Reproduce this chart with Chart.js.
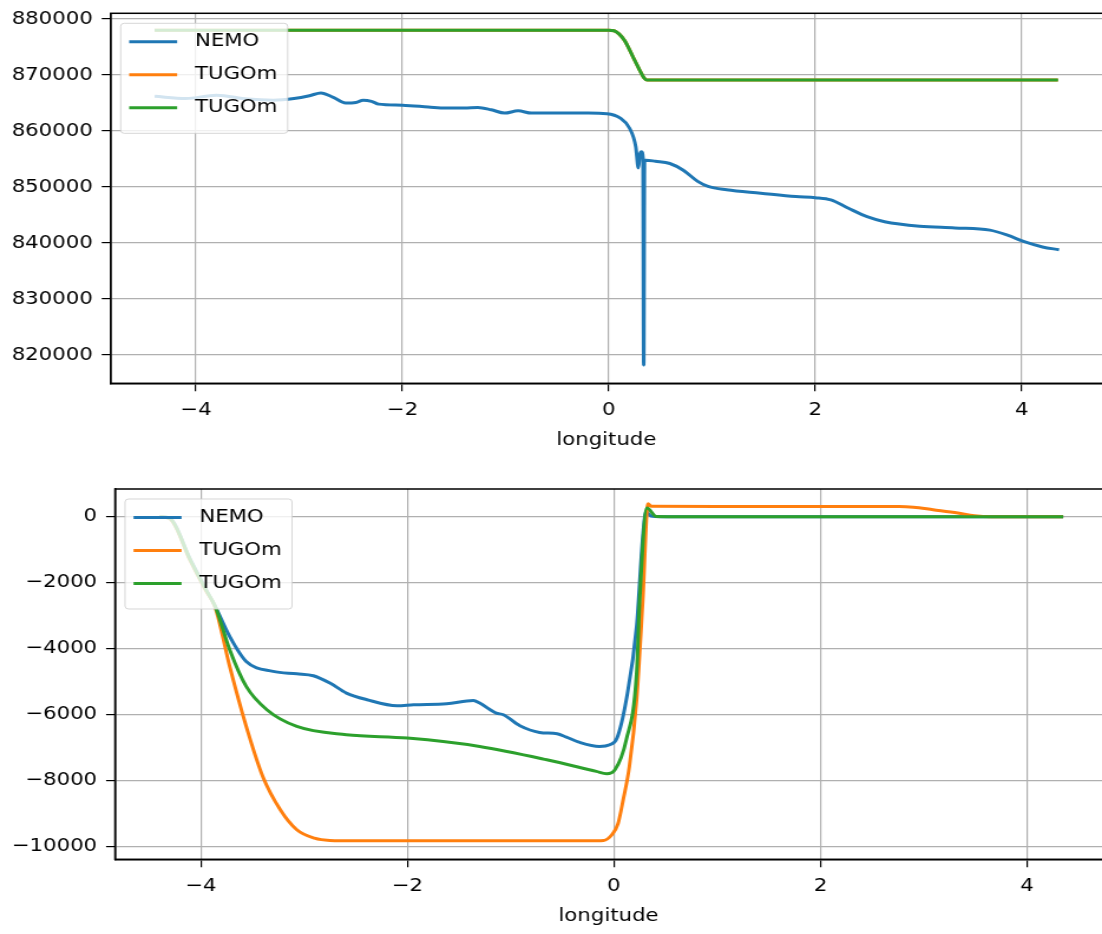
<!DOCTYPE html>
<html>
<head>
<meta charset="utf-8">
<script src="https://cdn.jsdelivr.net/npm/chart.js@4.4.1/dist/chart.umd.min.js"></script>
<style>
  html, body { margin: 0; padding: 0; background: #fff; overflow: hidden; }
  canvas { display: block; }
</style>
</head>
<body>
<canvas id="topChart" width="934" height="467" style="width:1102px;height:467px"></canvas>
<canvas id="bottomChart" width="934" height="467" style="width:1102px;height:467px"></canvas>
<script>
// the picture is stretched sideways, so draw narrow and widen with css
const STRETCH = 1102 / 934;

const seriesLabels = ['NEMO', 'TUGOm', 'TUGOm'];
const seriesColors = ['#1f77b4', '#ff7f0e', '#2ca02c'];

const xTickValues = [-4, -2, 0, 2, 4];
const topYTicks = [820000, 830000, 840000, 850000, 860000, 870000, 880000];
const bottomYTicks = [-10000, -8000, -6000, -4000, -2000, 0];

// top panel
const topNemoLon = [-4.4, -4.1, -3.8, -3.5, -3.25, -3.05, -2.9, -2.79, -2.67, -2.55, -2.45, -2.38, -2.3, -2.23,
  -2.0, -1.75, -1.58, -1.4, -1.27, -1.14, -1.01, -0.88, -0.75, -0.49, -0.2, -0.02, 0.11, 0.2, 0.26, 0.285,
  0.3, 0.315, 0.33, 0.337, 0.345, 0.36, 0.45, 0.59, 0.72, 0.86, 0.96, 1.14, 1.47, 1.81, 2.0, 2.15, 2.32,
  2.5, 2.67, 3.01, 3.35, 3.69, 3.86, 4.03, 4.2, 4.36];
const topNemoVal = [866200, 865800, 866400, 865700, 865500, 865800, 866300, 866800, 866000, 865000, 865100, 865500, 865300, 864800,
  864600, 864300, 864100, 864100, 864200, 863800, 863200, 863600, 863200, 863200, 863200, 863100, 862300, 860500, 857200, 853400,
  855800, 856300, 855200, 818200, 854800, 854800, 854600, 854200, 853000, 851000, 850100, 849500, 848900, 848300, 848100, 847700, 846200,
  844700, 843800, 843000, 842700, 842300, 841400, 840200, 839300, 838800];

const topTugoLon = [-4.4, -1.0, 0.0, 0.05, 0.1, 0.15, 0.2, 0.25, 0.3, 0.34, 0.37, 1.0, 4.35];
const topOrangeVal = [878000, 878000, 878000, 877900, 877300, 876200, 874500, 872600, 870800, 869500, 869100, 869100, 869100];
const topGreenVal = [878000, 878000, 878000, 877900, 877300, 876200, 874500, 872600, 870800, 869500, 869100, 869100, 869100];

// bottom panel
const bottomNemoLon = [-4.4, -4.3, -4.1, -3.95, -3.86, -3.72, -3.56, -3.3, -3.07, -2.91, -2.75, -2.59, -2.39, -2.1,
  -1.94, -1.62, -1.36, -1.3, -1.14, -1.07, -0.91, -0.72, -0.55, -0.46, -0.33, -0.14, -0.04, 0.03, 0.12, 0.22,
  0.28, 0.31, 0.36, 0.45, 2.0, 4.35];
const bottomNemoVal = [0, -50, -1300, -2200, -2717, -3627, -4384, -4687, -4758, -4818, -5040, -5343, -5545, -5727,
  -5697, -5667, -5566, -5646, -5949, -6000, -6333, -6535, -6576, -6677, -6839, -6960, -6909, -6707, -5545, -3324,
  -600, 150, 20, 0, 0, 0];

const bottomOrangeLon = [-4.4, -4.3, -4.1, -3.95, -3.86, -3.72, -3.56, -3.4, -3.23, -3.07, -2.9, -2.75, -2.5, -1.0,
  -0.25, -0.1, -0.02, 0.04, 0.09, 0.15, 0.22, 0.28, 0.33, 0.36, 1.0, 2.0, 2.76, 2.9, 3.09, 3.33, 3.49, 3.65, 4.35];
const bottomOrangeVal = [0, -60, -1350, -2250, -2750, -4536, -6354, -7870, -8879, -9485, -9740, -9809, -9820, -9820,
  -9820, -9809, -9636, -9300, -8576, -7566, -5545, -2500, 394, 320, 312, 312, 312, 290, 212, 112, 30, 0, 0];

const bottomGreenLon = [-4.4, -4.3, -4.1, -3.95, -3.86, -3.72, -3.56, -3.36, -3.07, -2.59, -2.0, -1.3, -0.65, -0.17,
  -0.07, 0.01, 0.12, 0.22, 0.25, 0.32, 0.41, 1.0, 4.35];
const bottomGreenVal = [0, -55, -1320, -2220, -2717, -4030, -5142, -5848, -6354, -6606, -6707, -6960, -7364, -7717,
  -7788, -7667, -6757, -4737, -2515, 263, 10, 0, 0];

function points(lon, val) {
  return lon.map((x, i) => ({ x: x, y: val[i] }));
}

function tickText(v) {
  return v < 0 ? '\u2212' + Math.abs(v) : String(v);
}

Chart.defaults.font.family = "'DejaVu Sans', sans-serif";
Chart.defaults.font.size = 18;
Chart.defaults.color = '#000';

// full box round the plot, like matplotlib spines
const frame = {
  id: 'frame',
  afterDatasetsDraw(chart) {
    const a = chart.chartArea;
    const ctx = chart.ctx;
    ctx.save();
    ctx.strokeStyle = '#000';
    ctx.lineWidth = 1.5;
    ctx.strokeRect(a.left, a.top, a.right - a.left + 2, a.bottom - a.top);
    ctx.restore();
  }
};

// legend drawn inside the plot, top left
const boxLegend = {
  id: 'boxLegend',
  afterDraw(chart) {
    const a = chart.chartArea;
    const ctx = chart.ctx;
    const x0 = a.left + 10 / STRETCH;
    const y0 = a.top + 10;
    ctx.save();
    ctx.beginPath();
    ctx.roundRect(x0, y0, 167 / STRETCH, 110, 3);
    ctx.fillStyle = 'rgba(255,255,255,0.8)';
    ctx.fill();
    ctx.strokeStyle = 'rgba(204,204,204,0.8)';
    ctx.lineWidth = 1;
    ctx.stroke();
    ctx.font = "18px 'DejaVu Sans'";
    ctx.textBaseline = 'middle';
    chart.data.datasets.forEach((ds, i) => {
      const y = y0 + 18.4 + 33 * i;
      ctx.strokeStyle = ds.borderColor;
      ctx.lineWidth = 3;
      ctx.beginPath();
      ctx.moveTo(a.left + 18.5 / STRETCH, y);
      ctx.lineTo(a.left + 66.5 / STRETCH, y);
      ctx.stroke();
      ctx.fillStyle = '#000';
      ctx.fillText(ds.label, a.left + 84.3 / STRETCH, y);
    });
    ctx.restore();
  }
};

function makeChart(id, series, cfg) {
  new Chart(document.getElementById(id), {
    type: 'line',
    data: {
      datasets: series.map((s, i) => ({
        label: seriesLabels[i],
        data: s,
        borderColor: seriesColors[i],
        backgroundColor: seriesColors[i],
        borderWidth: 3,
        pointRadius: 0,
        cubicInterpolationMode: 'monotone',
        order: 2 - i
      }))
    },
    options: {
      responsive: false,
      devicePixelRatio: 1,
      animation: false,
      layout: { padding: { top: cfg.top, left: 0, right: 0, bottom: 0 } },
      plugins: { legend: { display: false }, tooltip: { enabled: false } },
      scales: {
        x: {
          type: 'linear',
          min: cfg.xMin,
          max: cfg.xMax,
          afterBuildTicks: s => { s.ticks = xTickValues.map(v => ({ value: v })); },
          afterFit: s => { s.height = cfg.xHeight; s.paddingLeft = 0; s.paddingRight = 0; },
          ticks: { callback: tickText, padding: 8, maxRotation: 0 },
          grid: { color: '#b0b0b0', lineWidth: 1.2, tickColor: '#000', tickLength: 8, tickWidth: 1.2 },
          border: { color: '#000', width: 1.5 },
          title: { display: true, text: 'longitude', color: '#000', padding: { top: 0, bottom: cfg.titlePad } }
        },
        y: {
          min: cfg.yMin,
          max: cfg.yMax,
          afterBuildTicks: s => { s.ticks = cfg.yTicks.map(v => ({ value: v })); },
          afterFit: s => { s.width = cfg.yWidth; s.paddingTop = 0; s.paddingBottom = 0; },
          ticks: { callback: tickText, padding: 7.6 },
          grid: { color: '#b0b0b0', lineWidth: 1.2, tickColor: '#000', tickLength: 7.6, tickWidth: 1.2 },
          border: { color: '#000', width: 1.5 }
        }
      }
    },
    plugins: [frame, boxLegend]
  });
}

makeChart('topChart', [
  points(topNemoLon, topNemoVal),
  points(topTugoLon, topOrangeVal),
  points(topTugoLon, topGreenVal)
], {
  top: 13.3, xHeight: 83.7, titlePad: 16, yWidth: 93.8,
  xMin: -4.826, xMax: 4.776, yMin: 814950, yMax: 881020, yTicks: topYTicks
});

makeChart('bottomChart', [
  points(bottomNemoLon, bottomNemoVal),
  points(bottomOrangeLon, bottomOrangeVal),
  points(bottomGreenLon, bottomGreenVal)
], {
  top: 22, xHeight: 74.7, titlePad: 6.5, yWidth: 97.5,
  xMin: -4.83, xMax: 4.726, yMin: -10380, yMax: 840, yTicks: bottomYTicks
});
</script>
</body>
</html>
